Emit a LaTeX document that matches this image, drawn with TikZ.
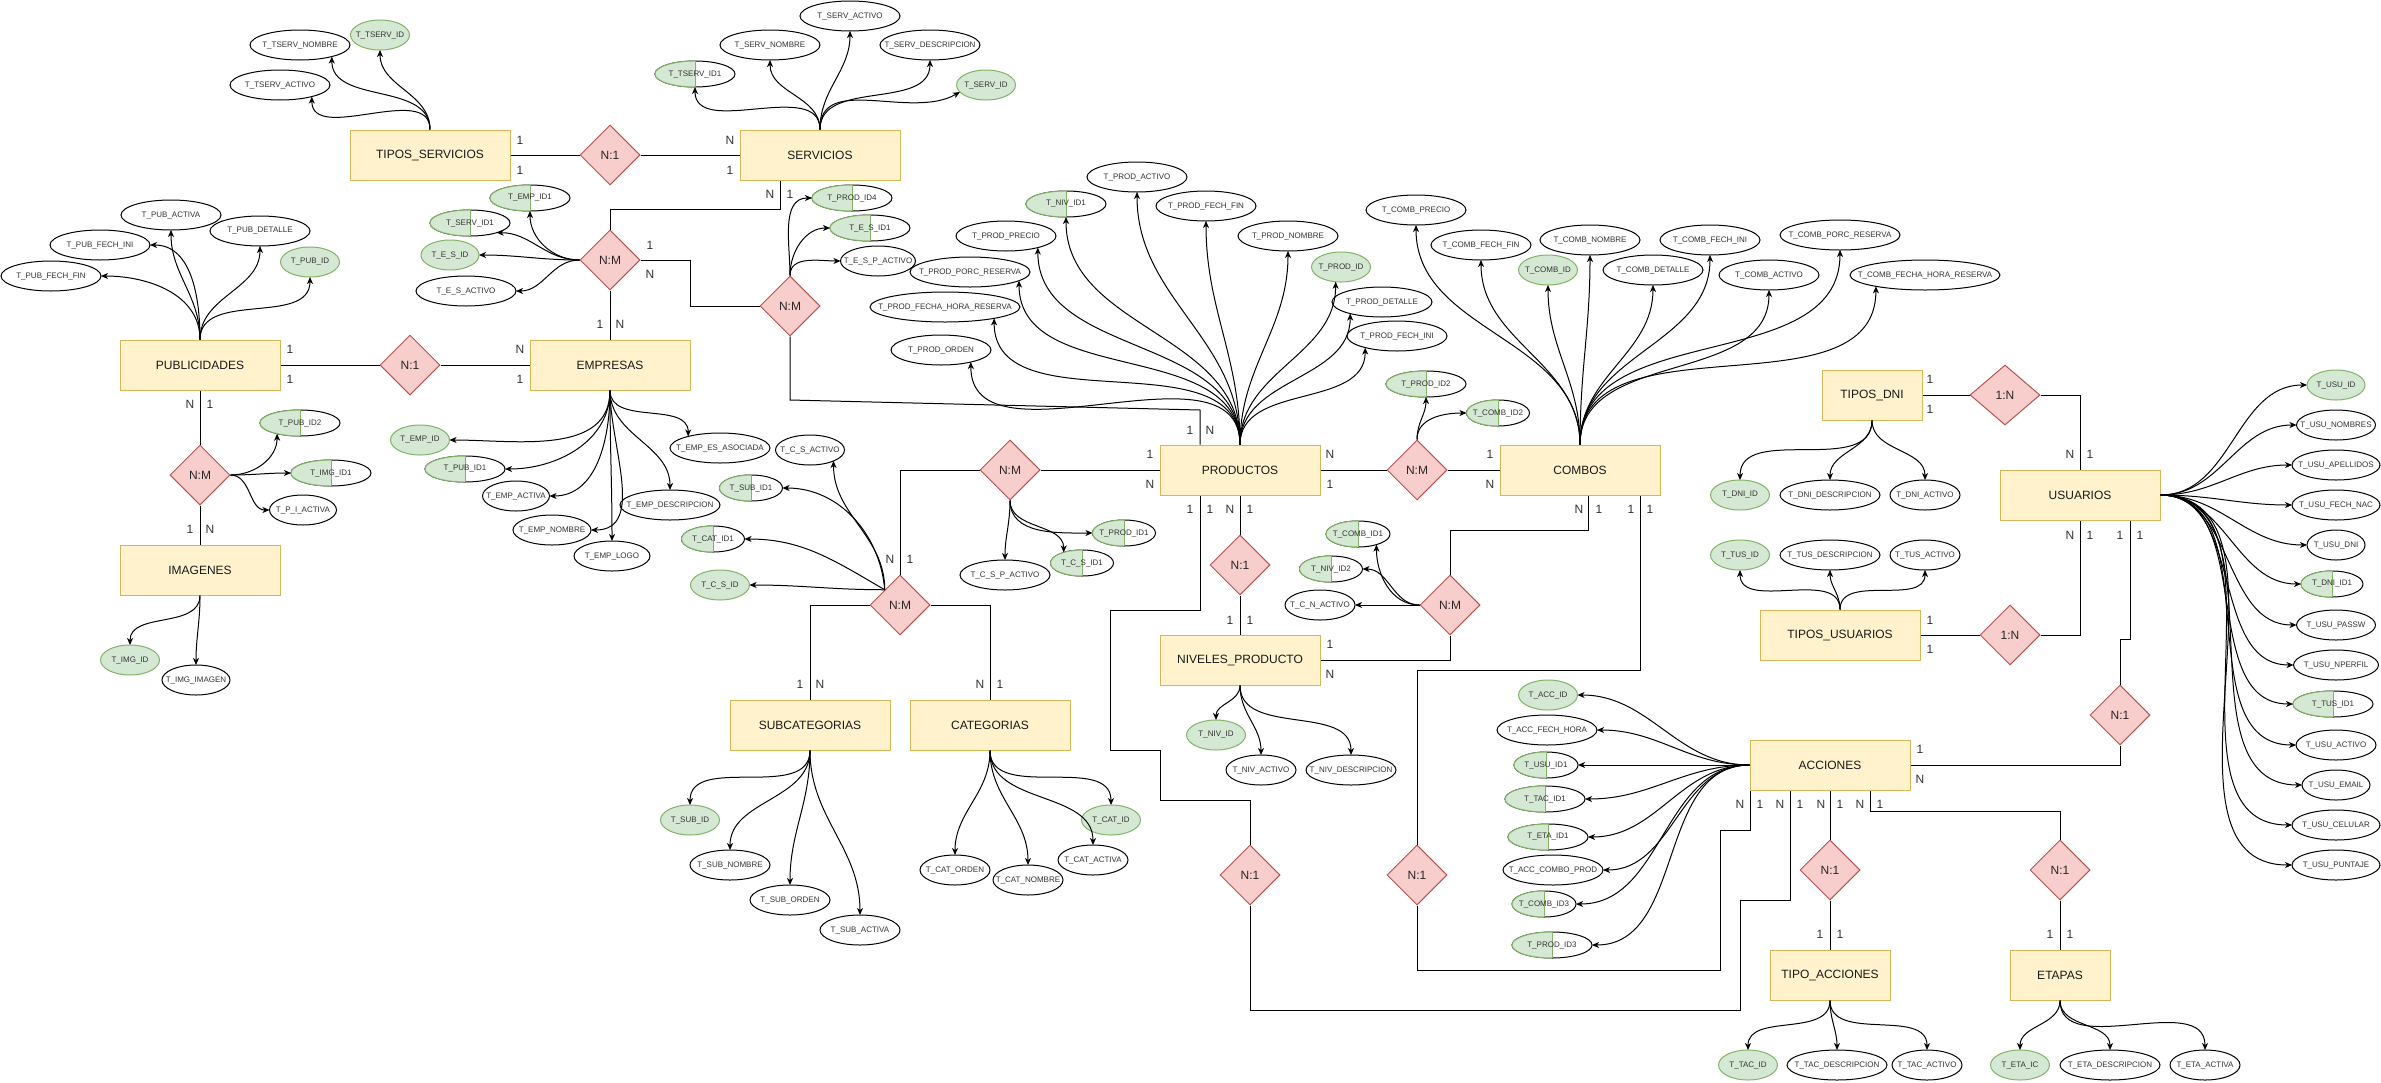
\documentclass[tikz,border=0pt]{standalone}
\usepackage{fontspec}
\setmainfont{Liberation Sans}
\usetikzlibrary{shapes.geometric,arrows.meta}

\definecolor{entfill}{HTML}{FFF2CC}
\definecolor{entdraw}{HTML}{D6B656}
\definecolor{relfill}{HTML}{F8CECC}
\definecolor{reldraw}{HTML}{B85450}
\definecolor{pkfill}{HTML}{D5E8D4}
\definecolor{pkdraw}{HTML}{82B366}

\tikzset{
  entity/.style={rectangle, draw=entdraw, fill=entfill, line width=1pt,
    minimum width=160pt, minimum height=50pt, inner sep=0pt,
    font=\fontsize{12}{14}\selectfont, text=black!90},
  relation/.style={diamond, draw=reldraw, fill=relfill, line width=1pt,
    minimum width=60pt, minimum height=60pt, inner sep=0pt,
    font=\fontsize{12}{14}\selectfont, text=black!85},
  attr/.style={ellipse, draw=black, fill=white, line width=1pt,
    minimum width=#1, minimum height=30pt, inner sep=0pt, outer sep=0pt,
    font=\fontsize{8}{9}\selectfont, text=black!80},
  attr/.default=100pt,
  pk/.style={fill=pkfill, draw=pkdraw},
  attrlabel/.style={inner sep=0pt, font=\fontsize{8}{9}\selectfont, text=black!80},
  card/.style={inner sep=0pt, font=\fontsize{12}{14}\selectfont, text=black!80},
  rel/.style={line width=1pt},
  arr/.style={line width=1pt, -{Stealth[length=7pt,width=6pt,inset=2pt]}},
}

% plain attribute, primary key, foreign key (half green)
\newcommand{\attrA}[5]{\node[attr=#4pt] (#1) at (#2,#3) {\makebox[0pt]{#5}};}
\newcommand{\attrP}[5]{\node[attr=#4pt,pk] (#1) at (#2,#3) {\makebox[0pt]{#5}};}
\newcommand{\attrF}[5]{%
  \node[attr=#4pt,minimum height=26pt] (#1) at (#2,#3) {};
  \begin{scope}
    \clip ([yshift=20pt]#1.center) rectangle ++(-#4pt,-40pt);
    \node[attr=#4pt,minimum height=26pt,pk] (#1h) at (#1.center) {};
  \end{scope}
  \draw[pkdraw,line width=1pt] (#1.north) -- (#1.south);
  \node[attrlabel] (#1t) at (#1.center) {\makebox[0pt]{#5}};}

\begin{document}
\begin{tikzpicture}[x=1pt,y=-1pt]
\fill[white] (0,0) rectangle (2381,1082);
\useasboundingbox (0,0) rectangle (2381,1082);

% ---------------- entities ----------------
\node[entity] (TSERV) at (430,155) {TIPOS\_SERVICIOS};
\node[entity] (SERV) at (820,155) {SERVICIOS};
\node[entity] (PUB) at (200,365) {PUBLICIDADES};
\node[entity] (EMP) at (610,365) {EMPRESAS};
\node[entity] (IMG) at (200,570) {IMAGENES};
\node[entity] (PROD) at (1240,470) {PRODUCTOS};
\node[entity] (COMB) at (1580,470) {COMBOS};
\node[entity] (NIV) at (1240,660) {NIVELES\_PRODUCTO};
\node[entity] (SUB) at (810,725) {SUBCATEGORIAS};
\node[entity] (CAT) at (990,725) {CATEGORIAS};
\node[entity, minimum width=100pt] (TDNI) at (1872,395) {TIPOS\_DNI};
\node[entity] (USU) at (2080,495) {USUARIOS};
\node[entity] (TUSU) at (1840,635) {TIPOS\_USUARIOS};
\node[entity] (ACC) at (1830,765) {ACCIONES};
\node[entity, minimum width=120pt] (TACC) at (1830,975) {TIPO\_ACCIONES};
\node[entity, minimum width=100pt] (ETA) at (2060,975) {ETAPAS};

% ---------------- relationships ----------------
\node[relation] (r1) at (610,155) {N:1};
\node[relation] (r2) at (410,365) {N:1};
\node[relation] (r3) at (610,260) {N:M};
\node[relation] (r4) at (790,306) {N:M};
\node[relation] (r5) at (200,475) {N:M};
\node[relation] (r6) at (1010,470) {N:M};
\node[relation] (r7) at (900,605) {N:M};
\node[relation] (r8) at (1417,470) {N:M};
\node[relation] (r9) at (1240,565) {N:1};
\node[relation] (r10) at (1450,605) {N:M};
\node[relation, minimum width=70pt] (r11) at (2005,395) {1:N};
\node[relation] (r12) at (2010,635) {1:N};
\node[relation] (r13) at (2120,715) {N:1};
\node[relation] (r14) at (1830,870) {N:1};
\node[relation] (r15) at (2060,870) {N:1};
\node[relation] (r16) at (1250,875) {N:1};
\node[relation] (r17) at (1417,875) {N:1};

% ---------------- attributes ----------------
% TIPOS_SERVICIOS
\attrP{tservId}{380}{35}{59}{T\_TSERV\_ID}
\attrA{tservNom}{300}{45}{100}{T\_TSERV\_NOMBRE}
\attrA{tservAct}{280}{85}{100}{T\_TSERV\_ACTIVO}
% SERVICIOS
\attrA{servAct}{850}{16}{100}{T\_SERV\_ACTIVO}
\attrA{servNom}{770}{45}{100}{T\_SERV\_NOMBRE}
\attrA{servDesc}{930}{45}{100}{T\_SERV\_DESCRIPCION}
\attrF{fkTservA}{695}{74}{80}{T\_TSERV\_ID1}
\attrP{servId}{986}{85}{59}{T\_SERV\_ID}
% PUBLICIDADES
\attrA{pubAct}{171}{215}{100}{T\_PUB\_ACTIVA}
\attrA{pubDet}{260}{231}{100}{T\_PUB\_DETALLE}
\attrA{pubIni}{100}{245}{100}{T\_PUB\_FECH\_INI}
\attrA{pubFin}{51}{276}{100}{T\_PUB\_FECH\_FIN}
\attrP{pubId}{310}{262}{59}{T\_PUB\_ID}
% empresas - servicios
\attrF{fkEmpA}{530}{198}{80}{T\_EMP\_ID1}
\attrF{fkServA}{470}{223}{80}{T\_SERV\_ID1}
\attrP{esId}{450}{255}{58}{T\_E\_S\_ID}
\attrA{esAct}{466}{291}{100}{T\_E\_S\_ACTIVO}
% empresas_servicios - productos
\attrF{fkProdD}{852}{198}{80}{T\_PROD\_ID4}
\attrF{fkEsA}{870}{228}{80}{T\_E\_S\_ID1}
\attrA{espAct}{878}{261}{75}{T\_E\_S\_P\_ACTIVO}
% EMPRESAS
\attrP{empId}{420}{440}{59}{T\_EMP\_ID}
\attrF{fkPubA}{465}{469}{80}{T\_PUB\_ID1}
\attrA{empAct}{516}{496}{67}{T\_EMP\_ACTIVA}
\attrA{empNom}{552}{530}{78}{T\_EMP\_NOMBRE}
\attrA{empLogo}{612}{556}{76}{T\_EMP\_LOGO}
\attrA{empDesc}{670}{505}{100}{T\_EMP\_DESCRIPCION}
\attrA{empAsoc}{720}{448}{100}{T\_EMP\_ES\_ASOCIADA}
% publicidades - imagenes
\attrF{fkPubB}{300}{423}{80}{T\_PUB\_ID2}
\attrF{fkImgA}{331}{473}{80}{T\_IMG\_ID1}
\attrA{piAct}{303}{510}{67}{T\_P\_I\_ACTIVA}
% IMAGENES
\attrP{imgId}{130}{660}{59}{T\_IMG\_ID}
\attrA{imgImg}{196}{680}{68}{T\_IMG\_IMAGEN}
% PRODUCTOS
\attrF{fkNivA}{1066}{204}{80}{T\_NIV\_ID1}
\attrA{prodAct}{1137}{177}{100}{T\_PROD\_ACTIVO}
\attrA{prodPrec}{1006}{236}{100}{T\_PROD\_PRECIO}
\attrA{prodPorc}{970}{272}{120}{T\_PROD\_PORC\_RESERVA}
\attrA{prodFhr}{945}{307}{150}{T\_PROD\_FECHA\_HORA\_RESERVA}
\attrA{prodOrd}{941}{350}{100}{T\_PROD\_ORDEN}
\attrA{prodFin}{1206}{206}{100}{T\_PROD\_FECH\_FIN}
\attrA{prodNom}{1288}{236}{100}{T\_PROD\_NOMBRE}
\attrP{prodId}{1341}{267}{59}{T\_PROD\_ID}
\attrA{prodDet}{1382}{302}{100}{T\_PROD\_DETALLE}
\attrA{prodIni}{1397}{336}{100}{T\_PROD\_FECH\_INI}
% productos - combos
\attrF{fkProdB}{1426}{384}{80}{T\_PROD\_ID2}
\attrF{fkCombB}{1498}{413}{63}{T\_COMB\_ID2}
% COMBOS
\attrA{combPrec}{1416}{210}{100}{T\_COMB\_PRECIO}
\attrA{combFin}{1481}{245}{100}{T\_COMB\_FECH\_FIN}
\attrP{combId}{1548}{270}{59}{T\_COMB\_ID}
\attrA{combNom}{1590}{240}{100}{T\_COMB\_NOMBRE}
\attrA{combDet}{1653}{270}{100}{T\_COMB\_DETALLE}
\attrA{combIni}{1710}{240}{100}{T\_COMB\_FECH\_INI}
\attrA{combAct}{1769}{275}{100}{T\_COMB\_ACTIVO}
\attrA{combPorc}{1840}{235}{120}{T\_COMB\_PORC\_RESERVA}
\attrA{combFhr}{1925}{275}{150}{T\_COMB\_FECHA\_HORA\_RESERVA}
% cat_sub - productos
\attrF{fkProdA}{1124}{533}{63}{T\_PROD\_ID1}
\attrF{fkCsA}{1082}{563}{63}{T\_C\_S\_ID1}
\attrA{cspAct}{1005}{575}{90}{T\_C\_S\_P\_ACTIVO}
% categorias - subcategorias
\attrA{csAct}{810}{450}{69}{T\_C\_S\_ACTIVO}
\attrF{fkSubA}{751}{488}{63}{T\_SUB\_ID1}
\attrF{fkCatA}{713}{539}{63}{T\_CAT\_ID1}
\attrP{csId}{720}{585}{59}{T\_C\_S\_ID}
% SUBCATEGORIAS
\attrP{subId}{690}{820}{59}{T\_SUB\_ID}
\attrA{subNom}{730}{865}{80}{T\_SUB\_NOMBRE}
\attrA{subOrd}{790}{900}{80}{T\_SUB\_ORDEN}
\attrA{subAct}{860}{930}{80}{T\_SUB\_ACTIVA}
% CATEGORIAS
\attrP{catId}{1111}{820}{59}{T\_CAT\_ID}
\attrA{catOrd}{955}{870}{70}{T\_CAT\_ORDEN}
\attrA{catNom}{1028}{880}{70}{T\_CAT\_NOMBRE}
\attrA{catAct}{1093}{860}{70}{T\_CAT\_ACTIVA}
% combos - niveles
\attrF{fkCombA}{1358}{534}{64}{T\_COMB\_ID1}
\attrF{fkNivB}{1331}{569}{63}{T\_NIV\_ID2}
\attrA{cnAct}{1320}{605}{70}{T\_C\_N\_ACTIVO}
% NIVELES_PRODUCTO
\attrP{nivId}{1216}{735}{59}{T\_NIV\_ID}
\attrA{nivAct}{1261}{770}{70}{T\_NIV\_ACTIVO}
\attrA{nivDesc}{1351}{770}{90}{T\_NIV\_DESCRIPCION}
% ACCIONES
\attrP{accId}{1548}{695}{59}{T\_ACC\_ID}
\attrA{accFh}{1547}{730}{100}{T\_ACC\_FECH\_HORA}
\attrF{fkUsuA}{1546}{765}{64}{T\_USU\_ID1}
\attrF{fkTacA}{1545}{799}{80}{T\_TAC\_ID1}
\attrF{fkEtaA}{1548}{837}{80}{T\_ETA\_ID1}
\attrA{accCp}{1553}{870}{100}{T\_ACC\_COMBO\_PROD}
\attrF{fkCombC}{1544}{904}{64}{T\_COMB\_ID3}
\attrF{fkProdC}{1552}{945}{80}{T\_PROD\_ID3}
% TIPO_ACCIONES
\attrP{tacId}{1748}{1065}{59}{T\_TAC\_ID}
\attrA{tacDesc}{1837}{1065}{100}{T\_TAC\_DESCRIPCION}
\attrA{tacAct}{1927}{1065}{70}{T\_TAC\_ACTIVO}
% ETAPAS
\attrP{etaId}{2020}{1065}{59}{T\_ETA\_IC}
\attrA{etaDesc}{2110}{1065}{100}{T\_ETA\_DESCRIPCION}
\attrA{etaAct}{2205}{1065}{70}{T\_ETA\_ACTIVA}
% TIPOS_DNI
\attrP{dniId}{1740}{495}{59}{T\_DNI\_ID}
\attrA{dniDesc}{1830}{495}{100}{T\_DNI\_DESCRIPCION}
\attrA{dniAct}{1925}{495}{70}{T\_DNI\_ACTIVO}
% TIPOS_USUARIOS
\attrP{tusId}{1740}{555}{59}{T\_TUS\_ID}
\attrA{tusDesc}{1830}{555}{100}{T\_TUS\_DESCRIPCION}
\attrA{tusAct}{1925}{555}{70}{T\_TUS\_ACTIVO}
% USUARIOS
\attrP{usuId}{2336}{385}{58}{T\_USU\_ID}
\attrA{usuNom}{2336}{425}{79}{T\_USU\_NOMBRES}
\attrA{usuApe}{2336}{465}{88}{T\_USU\_APELLIDOS}
\attrA{usuNac}{2336}{505}{88}{T\_USU\_FECH\_NAC}
\attrA{usuDni}{2336}{545}{58}{T\_USU\_DNI}
\attrF{fkDniA}{2332}{584}{62}{T\_DNI\_ID1}
\attrA{usuPass}{2336}{625}{79}{T\_USU\_PASSW}
\attrA{usuPerf}{2336}{665}{85}{T\_USU\_NPERFIL}
\attrF{fkTusA}{2333}{704}{80}{T\_TUS\_ID1}
\attrA{usuAct}{2336}{745}{80}{T\_USU\_ACTIVO}
\attrA{usuMail}{2336}{785}{68}{T\_USU\_EMAIL}
\attrA{usuCel}{2336}{825}{88}{T\_USU\_CELULAR}
\attrA{usuPunt}{2336}{865}{88}{T\_USU\_PUNTAJE}

% ---------------- attribute arrows ----------------
\foreach \t/\a/\i in {tservId/south/-90, tservNom/-20/-90, tservAct/-20/-90}
  \draw[arr] (TSERV.north) to[out=90,in=\i] (\t.\a);
\foreach \t/\a/\i in {fkTservA/south/-90, servNom/south/-90, servAct/south/-90, servDesc/south/-90, servId/195/-150}
  \draw[arr] (SERV.north) to[out=90,in=\i] (\t.\a);
\foreach \t/\a/\i in {pubFin/east/0, pubIni/east/0, pubAct/south/-90, pubDet/south/-90, pubId/south/-90}
  \draw[arr] (PUB.north) to[out=90,in=\i] (\t.\a);
\foreach \t/\a/\i in {fkEmpA/south/-90, fkServA/-20/0, esId/east/0, esAct/east/0}
  \draw[arr] (r3.west) to[out=180,in=\i] (\t.\a);
\foreach \t in {fkProdD, fkEsA, espAct}
  \draw[arr] (r4.north) to[out=90,in=180] (\t.west);
\foreach \t/\a/\i in {empId/east/0, fkPubA/east/0, empAct/east/0, empNom/east/0, empLogo/north/90, empDesc/north/90, empAsoc/160/90}
  \draw[arr] (EMP.south) to[out=-90,in=\i] (\t.\a);
\foreach \t/\a/\i in {fkPubB/-155/-90, fkImgA/west/180, piAct/west/180}
  \draw[arr] (r5.east) to[out=0,in=\i] (\t.\a);
\foreach \t in {imgId, imgImg}
  \draw[arr] (IMG.south) to[out=-90,in=90] (\t.north);
\foreach \t/\a in {fkNivA/south, prodAct/south, prodPrec/-20, prodPorc/-10, prodFhr/-13, prodOrd/-22, prodFin/south, prodNom/south, prodId/-110, prodDet/-160, prodIni/-160}
  \draw[arr] (PROD.north) to[out=90,in=-90] (\t.\a);
\draw[arr] (r8.north) to[out=90,in=-90] (fkProdB.south);
\draw[arr] (r8.north) to[out=90,in=180] (fkCombB.west);
\foreach \t/\a in {combPrec/south, combFin/south, combId/south, combNom/south, combDet/south, combIni/south, combAct/south, combPorc/south, combFhr/-167}
  \draw[arr] (COMB.north) to[out=90,in=-90] (\t.\a);
\foreach \t/\a/\i in {fkProdA/west/180, fkCsA/150/90, cspAct/north/90}
  \draw[arr] (r6.south) to[out=-90,in=\i] (\t.\a);
\draw[arr] (r7.135) to[out=90,in=-90] (csAct.-25);
\draw[arr] (r7.135) to[out=95,in=0] (fkSubA.east);
\draw[arr] (r7.135) to[out=150,in=0] (fkCatA.east);
\draw[arr] (r7.135) to[out=180,in=0] (csId.east);
\foreach \t in {subId, subNom, subOrd, subAct}
  \draw[arr] (SUB.south) to[out=-90,in=90] (\t.north);
\foreach \t in {catOrd, catNom, catAct, catId}
  \draw[arr] (CAT.south) to[out=-90,in=90] (\t.north);
\foreach \t/\a/\i in {fkCombA/-30/-90, fkNivB/east/0, cnAct/east/0}
  \draw[arr] (r10.west) to[out=180,in=\i] (\t.\a);
\foreach \t in {nivId, nivAct, nivDesc}
  \draw[arr] (NIV.south) to[out=-90,in=90] (\t.north);
\foreach \t in {accId, accFh, fkUsuA, fkTacA, fkEtaA, accCp, fkCombC, fkProdC}
  \draw[arr] (ACC.west) to[out=180,in=0] (\t.east);
\foreach \t in {tacId, tacDesc, tacAct}
  \draw[arr] (TACC.south) to[out=-90,in=90] (\t.north);
\foreach \t in {etaId, etaDesc, etaAct}
  \draw[arr] (ETA.south) to[out=-90,in=90] (\t.north);
\foreach \t in {dniId, dniDesc, dniAct}
  \draw[arr] (TDNI.south) to[out=-90,in=90] (\t.north);
\foreach \t in {tusId, tusDesc, tusAct}
  \draw[arr] (TUSU.north) to[out=90,in=-90] (\t.south);
\foreach \t in {usuId, usuNom, usuApe, usuNac, usuDni, fkDniA, usuPass, usuPerf, fkTusA, usuAct, usuMail, usuCel, usuPunt}
  \draw[arr] (USU.east) to[out=0,in=180] (\t.west);

% ---------------- relationship connectors ----------------
\draw[rel] (TSERV.east) -- (r1.west);
\draw[rel] (r1.east) -- (SERV.west);
\draw[rel] (PUB.east) -- (r2.west);
\draw[rel] (r2.east) -- (EMP.west);
\draw[rel] (r3.south) -- (EMP.north);
\draw[rel] (r3.north) -- ++(0,-20) -| ([xshift=-40pt]SERV.south);
\draw[rel] (r3.east) -- ++(50,0) |- (r4.west);
\coordinate (bendA) at (790,400);
\coordinate (bendB) at (1200,410);
\draw[rel] (r4.south) -- (bendA) -- (bendB) -- ([xshift=-40pt]PROD.north);
\draw[rel] (PUB.south) -- (r5.north);
\draw[rel] (r5.south) -- (IMG.north);
\draw[rel] (r6.east) -- (PROD.west);
\draw[rel] (r6.west) -| (r7.north);
\draw[rel] (r7.west) -| (SUB.north);
\draw[rel] (r7.east) -| (CAT.north);
\draw[rel] (PROD.east) -- (r8.west);
\draw[rel] (r8.east) -- (COMB.west);
\draw[rel] (PROD.south) -- (r9.north);
\draw[rel] (r9.south) -- (NIV.north);
\draw[rel] ([xshift=8pt]COMB.south) -- ++(0,35) -| (r10.north);
\draw[rel] (r10.south) |- (NIV.east);
\draw[rel] ([xshift=60pt]COMB.south) -- ++(0,175) -| (r17.north);
\draw[rel] (r17.south) |- (1720,970) -- (1720,830) -| ([xshift=-80pt]ACC.south);
\draw[rel] ([xshift=-40pt]PROD.south) -- (1200,610) -- (1110,610) -- (1110,750)
  -- (1160,750) -- (1160,800) -| (r16.north);
\draw[rel] (r16.south) |- (1740,1010) -- (1740,900) -| ([xshift=-40pt]ACC.south);
\draw[rel] (ACC.south) -- (r14.north);
\draw[rel] (r14.south) -- (TACC.north);
\draw[rel] ([xshift=40pt]ACC.south) -- ++(0,21) -| (r15.north);
\draw[rel] (r15.south) -- (ETA.north);
\draw[rel] (ACC.east) -| (r13.south);
\draw[rel] (r13.north) -- ++(0,-45) -| ([xshift=50pt]USU.south);
\draw[rel] (TDNI.east) -- (r11.west);
\draw[rel] (r11.east) -| (USU.north);
\draw[rel] (TUSU.east) -- (r12.west);
\draw[rel] (r12.east) -| (USU.south);

% ---------------- cardinalities ----------------
\foreach \x/\y/\t [count=\k] in {
  520/140/1, 520/170/1, 730/140/N, 730/170/1,
  290/349/1, 290/379/1, 520/349/N, 520/379/1,
  190/404/N, 210/404/1, 190/529/1, 210/529/N,
  600/324/1, 620/324/N, 770/194/N, 790/194/1,
  650/245/1, 650/274/N, 1190/430/1, 1210/430/N,
  1150/454/1, 1150/484/N, 890/559/N, 910/559/1,
  800/684/1, 820/684/N, 980/684/N, 1000/684/1,
  1330/454/N, 1330/484/1, 1490/454/1, 1490/484/N,
  1190/509/1, 1210/509/1, 1230/509/N, 1250/509/1,
  1230/620/1, 1250/620/1, 1330/644/1, 1330/674/N,
  1579/509/N, 1599/509/1, 1631/509/1, 1650/509/1,
  1740/804/N, 1760/804/1, 1780/804/N, 1800/804/1,
  1821/804/N, 1840/804/1, 1860/804/N, 1880/804/1,
  1820/934/1, 1840/934/1, 2050/934/1, 2070/934/1,
  1920/749/1, 1920/779/N,
  1930/379/1, 1930/409/1, 2070/454/N, 2090/454/1,
  1930/620/1, 1930/649/1, 2070/535/N, 2090/535/1, 2120/535/1, 2140/535/1}
  \node[card] (card\k) at (\x,\y) {\t};

\end{tikzpicture}
\end{document}
